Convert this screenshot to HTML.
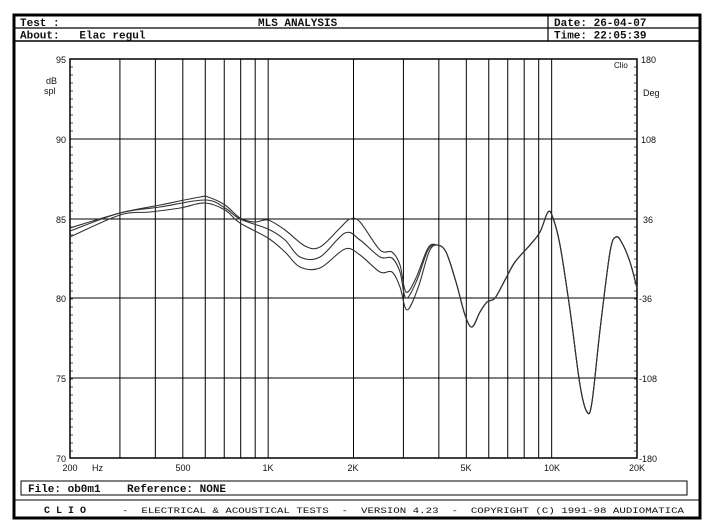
<!DOCTYPE html>
<html><head><meta charset="utf-8"><style>
body{margin:0;background:#fff;width:705px;height:532px;overflow:hidden}
svg{display:block}
text{font-family:"Liberation Mono",monospace;fill:#111;white-space:pre}
</style></head><body>
<svg id="s" width="705" height="532" viewBox="0 0 705 532" xmlns="http://www.w3.org/2000/svg" xml:space="preserve">
<rect x="14" y="15" width="686" height="503" fill="none" stroke="#000" stroke-width="3"/>
<line x1="14" y1="28" x2="700" y2="28" stroke="#000" stroke-width="1.2"/>
<line x1="14" y1="41" x2="700" y2="41" stroke="#000" stroke-width="1.5"/>
<line x1="548" y1="15" x2="548" y2="41" stroke="#000" stroke-width="1.2"/>
<text x="20" y="26" font-size="11" font-weight="bold">Test :</text>
<text x="258" y="26" font-size="11" font-weight="bold">MLS ANALYSIS</text>
<text x="20" y="38.5" font-size="11" font-weight="bold">About:   Elac regul</text>
<text x="554" y="26" font-size="11" font-weight="bold">Date: 26-04-07</text>
<text x="554" y="38.5" font-size="11" font-weight="bold">Time: 22:05:39</text>
<rect x="21" y="481" width="666" height="14" fill="none" stroke="#000" stroke-width="1"/>
<text x="28" y="492" font-size="11" font-weight="bold">File: ob0m1    Reference: NONE</text>
<line x1="14" y1="500" x2="700" y2="500" stroke="#000" stroke-width="1"/>
<text x="44" y="513" font-size="10" font-weight="bold">C L I O</text>
<text x="122" y="513" font-size="8.5" textLength="562" lengthAdjust="spacingAndGlyphs">-  ELECTRICAL &amp; ACOUSTICAL TESTS  -  VERSION 4.23  -  COPYRIGHT (C) 1991-98 AUDIOMATICA</text>
<g id="grid" stroke="#000" stroke-width="1"></g>
<rect x="70" y="59" width="567" height="399" fill="none" stroke="#000" stroke-width="1.5"/>
<g font-size="9">
<text x="66" y="63" text-anchor="end" style="font-family:Liberation Sans">95</text>
<text x="66" y="143" text-anchor="end" style="font-family:Liberation Sans">90</text>
<text x="66" y="223" text-anchor="end" style="font-family:Liberation Sans">85</text>
<text x="66" y="302" text-anchor="end" style="font-family:Liberation Sans">80</text>
<text x="66" y="382" text-anchor="end" style="font-family:Liberation Sans">75</text>
<text x="66" y="462" text-anchor="end" style="font-family:Liberation Sans">70</text>
<text x="46" y="84" style="font-family:Liberation Sans">dB</text>
<text x="44" y="94" style="font-family:Liberation Sans">spl</text>
<text x="641" y="63" style="font-family:Liberation Sans">180</text>
<text x="643" y="96" style="font-family:Liberation Sans">Deg</text>
<text x="641" y="143" style="font-family:Liberation Sans">108</text>
<text x="643" y="223" style="font-family:Liberation Sans">36</text>
<text x="639" y="302" style="font-family:Liberation Sans">-36</text>
<text x="639" y="382" style="font-family:Liberation Sans">-108</text>
<text x="639" y="462" style="font-family:Liberation Sans">-180</text>
<text x="614" y="68" style="font-family:Liberation Sans" font-size="8">Clio</text>
<text x="70" y="471" text-anchor="middle" style="font-family:Liberation Sans">200</text>
<text x="92" y="471" style="font-family:Liberation Sans">Hz</text>
<text x="183" y="471" text-anchor="middle" style="font-family:Liberation Sans">500</text>
<text x="268" y="471" text-anchor="middle" style="font-family:Liberation Sans">1K</text>
<text x="353" y="471" text-anchor="middle" style="font-family:Liberation Sans">2K</text>
<text x="466" y="471" text-anchor="middle" style="font-family:Liberation Sans">5K</text>
<text x="552" y="471" text-anchor="middle" style="font-family:Liberation Sans">10K</text>
<text x="637" y="471" text-anchor="middle" style="font-family:Liberation Sans">20K</text>
</g>
<g id="curves" fill="none" stroke="#333" stroke-width="1.1"></g>
</svg>
<script>
var g=document.getElementById('grid'),ns='http://www.w3.org/2000/svg';
function L(a,b,c,d,w){var l=document.createElementNS(ns,'line');l.setAttribute('x1',a);l.setAttribute('y1',b);l.setAttribute('x2',c);l.setAttribute('y2',d);if(w)l.setAttribute('stroke-width',w);g.appendChild(l);}
function X(f){return 70+283.5*Math.log10(f/200);}
[300,400,500,600,700,800,900,1000,2000,3000,4000,5000,6000,7000,8000,9000,10000].forEach(function(f){var x=X(f);L(x,59,x,458);});
[139,219,298,378].forEach(function(y){L(70,y,637,y);});
for(var y=59;y<=458;y+=8){L(70,y,73,y,0.7);L(634,y,637,y,0.7);}
var tail=[[437,245],[446,252],[456,282],[465,315],[472,327],[480,312],[487,302],[495,298],[505,280],[515,262],[530,245],[540,232],[548,212],[553,218],[560,245],[570,310],[580,385],[587,412],[592,402],[600,330],[610,252],[616,237],[622,243],[630,262],[637,288]];
var C=[
[[70,228],[120,213],[160,205],[200,197],[208,197],[225,205],[240,218],[255,222],[268,220],[285,230],[305,246],[320,247],[340,228],[350,219],[360,222],[380,250],[392,252],[400,265],[406,292],[416,278],[428,248]],
[[70,231],[120,213],[160,207],[205,200],[225,208],[240,219],[268,229],[285,240],[300,257],[320,257],[345,233],[360,240],[380,257],[392,258],[400,272],[406,298],[417,280],[428,250]],
[[70,237],[120,215],[150,212],[180,208],[205,203],[225,210],[240,223],[268,238],[285,252],[300,267],[320,268],[345,249],[360,255],[380,272],[392,272],[400,287],[407,310],[418,288],[429,252]]];
var cg=document.getElementById('curves');
C.forEach(function(c){var p=c.concat(tail);var d='M'+p[0][0]+','+p[0][1];
for(var i=0;i<p.length-1;i++){var p0=p[Math.max(0,i-1)],p1=p[i],p2=p[i+1],p3=p[Math.min(p.length-1,i+2)];
d+=' C'+(p1[0]+(p2[0]-p0[0])/6)+','+(p1[1]+(p2[1]-p0[1])/6)+' '+(p2[0]-(p3[0]-p1[0])/6)+','+(p2[1]-(p3[1]-p1[1])/6)+' '+p2[0]+','+p2[1];}
var e=document.createElementNS(ns,'path');e.setAttribute('d',d);cg.appendChild(e);});
</script>
</body></html>
